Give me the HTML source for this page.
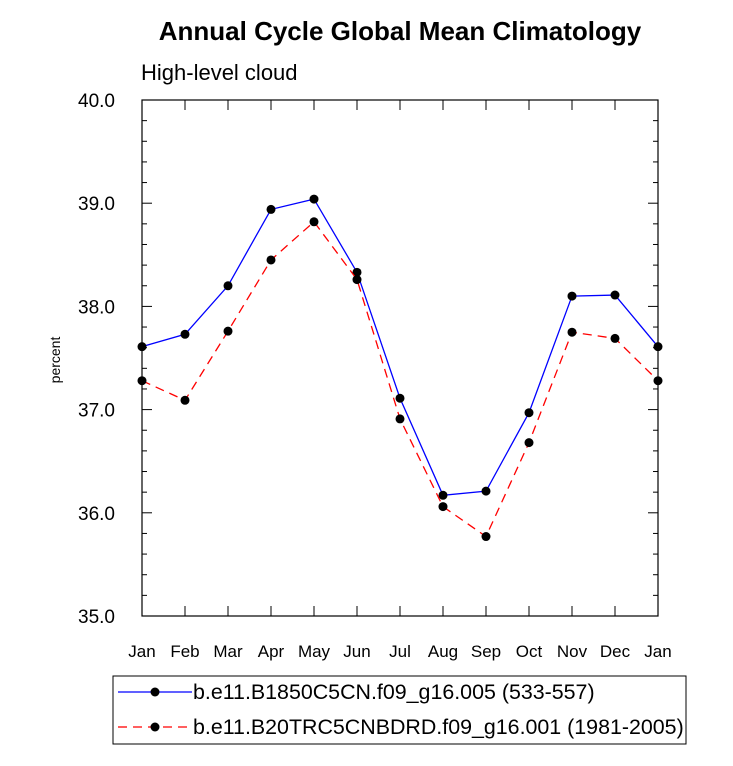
<!DOCTYPE html>
<html><head><meta charset="utf-8"><style>
body{margin:0;background:#fff;}
svg{display:block;font-family:"Liberation Sans",Arial,sans-serif;}
</style></head><body>
<svg id="chart" width="733" height="766">
<text x="400" y="40" text-anchor="middle" font-size="26" font-weight="bold">Annual Cycle Global Mean Climatology</text>
<text x="141" y="80" font-size="22">High-level cloud</text>
<text transform="translate(60,360) rotate(-90)" text-anchor="middle" font-size="14">percent</text>
<g id="axes"></g>
<g id="series"></g>
<rect x="113" y="676" width="573" height="68" fill="none" stroke="#000" stroke-width="1"/>
<g>
<line x1="118" y1="692" x2="192" y2="692" stroke="#0000ff" stroke-width="1.3"/>
<circle cx="155" cy="692" r="4.5" fill="#000"/>
<text x="193" y="699" font-size="21.4">b.e11.B1850C5CN.f09_g16.005 (533-557)</text>
</g>
<g>
<line x1="118" y1="727" x2="192" y2="727" stroke="#ff0000" stroke-width="1.3" stroke-dasharray="9,6"/>
<circle cx="155" cy="727" r="4.5" fill="#000"/>
<text x="193" y="734" font-size="21.4">b.e11.B20TRC5CNBDRD.f09_g16.001 (1981-2005)</text>
</g>
</svg>
<script>
const months=["Jan","Feb","Mar","Apr","May","Jun","Jul","Aug","Sep","Oct","Nov","Dec","Jan"];
const blueValues=[37.61,37.73,38.20,38.94,39.04,38.33,37.11,36.17,36.21,36.97,38.10,38.11,37.61];
const redValues=[37.28,37.09,37.76,38.45,38.82,38.26,36.91,36.06,35.77,36.68,37.75,37.69,37.28];
const yTicks=[35,36,37,38,39,40];
const NS="http://www.w3.org/2000/svg";
const L=142,R=658,T=100,B=616,ymin=35,ymax=40;
const xs=i=>L+(R-L)*i/(months.length-1);
const ys=v=>B-(v-ymin)/(ymax-ymin)*(B-T);
function mk(tag,attrs,parent){const e=document.createElementNS(NS,tag);for(const k in attrs)e.setAttribute(k,attrs[k]);parent.appendChild(e);return e;}
const ax=document.getElementById('axes');
const frame=mk('rect',{x:L,y:T,width:R-L,height:B-T,fill:'none',stroke:'#000','stroke-width':1.2},ax);


months.forEach((m,i)=>{
  const x=xs(i);
  mk('line',{x1:x,y1:B,x2:x,y2:B-10,stroke:'#000'},ax);
  mk('line',{x1:x,y1:T,x2:x,y2:T+10,stroke:'#000'},ax);
  const t=mk('text',{x:x,y:B+41,'text-anchor':'middle','font-size':17},ax);
  t.textContent=m;
  
  
});
for(let v=ymin;v<=ymax+1e-9;v+=0.2){
  const y=ys(v);const major=Math.abs(v-Math.round(v))<1e-6;const len=major?10:5;
  mk('line',{x1:L,y1:y,x2:L+len,y2:y,stroke:'#000'},ax);
  mk('line',{x1:R,y1:y,x2:R-len,y2:y,stroke:'#000'},ax);
}
yTicks.forEach(v=>{
  const t=mk('text',{x:L-27,y:ys(v)+7,'text-anchor':'end','font-size':19},ax);
  t.textContent=v.toFixed(1);
  
  
});
const sg=document.getElementById('series');
function series(vals,color,dash,name){
  const g=mk('g',{},sg);
  
  
  const pts=vals.map((v,i)=>xs(i)+','+ys(v)).join(' ');
  const a={points:pts,fill:'none',stroke:color,'stroke-width':1.3};
  if(dash)a['stroke-dasharray']=dash;
  mk('polyline',a,g);
  vals.forEach((v,i)=>{const c=mk('circle',{cx:xs(i),cy:ys(v),r:4.5,fill:'#000'},g);
    
    });
}
series(blueValues,'#0000ff',null,'series-b1850');
series(redValues,'#ff0000','9,6','series-b20trc');
</script>
</body></html>
